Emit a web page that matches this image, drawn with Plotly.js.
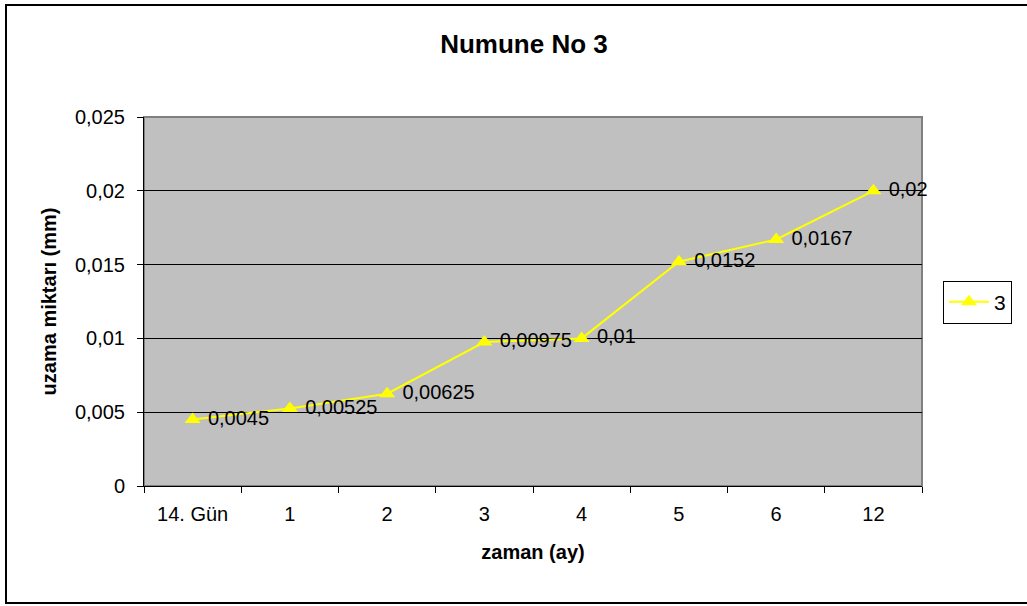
<!DOCTYPE html>
<html>
<head>
<meta charset="utf-8">
<script src="https://cdn.plot.ly/plotly-3.0.1.min.js"></script>
<style>html,body{margin:0;padding:0;background:#fff;}#chart{width:1027px;height:606px;}</style>
</head>
<body>
<div id="chart"></div>
<script>
const categories = ["14. Gün", "1", "2", "3", "4", "5", "6", "12"];
const seriesName = "3";
const values = [0.0045, 0.00525, 0.00625, 0.00975, 0.01, 0.0152, 0.0167, 0.02];
const yTickVals = [0, 0.005, 0.01, 0.015, 0.02, 0.025];
const yTickText = ["0", "0,005", "0,01", "0,015", "0,02", "0,025"];
const chartTitle = "Numune No 3";
const xTitle = "zaman (ay)";
const yTitle = "uzama miktarı (mm)";

const labels = values.map(v => " " + String(v).replace(".", ","));
const FONT = "Liberation Sans, Arial, sans-serif";

const trace = {
  x: categories,
  y: values,
  name: seriesName,
  type: "scatter",
  mode: "lines+markers+text",
  line: {color: "#FFFF00", width: 2},
  marker: {symbol: "triangle-up", size: 14, color: "#FFFF00"},
  text: labels,
  textposition: "middle right",
  textfont: {family: FONT, size: 20, color: "#000"},
  cliponaxis: false
};

// plot area pixel geometry: x 144..922, y 117..486
const L = 144, R = 922, T = 117, B = 486;
const pw = R - L, ph = B - T;
const px = p => (p - L) / pw;
const py = p => (B - p) / ph;

const layout = {
  width: 1027, height: 606,
  margin: {l: L, r: 1027 - R, t: T, b: 606 - B, pad: 0},
  paper_bgcolor: "#fff",
  plot_bgcolor: "#C0C0C0",
  separators: ", ",
  font: {family: FONT, color: "#000", size: 20},
  title: {text: "<b>" + chartTitle + "</b>", font: {family: FONT, size: 26, color: "#000"},
          x: 524 / 1027, xref: "container", xanchor: "center", y: 1 - 44 / 606, yref: "container", yanchor: "middle"},
  showlegend: true,
  legend: {x: px(943), xanchor: "left", y: py(302), yanchor: "middle", bgcolor: "#fff",
           bordercolor: "#000", borderwidth: 1, font: {family: FONT, size: 21, color: "#000"},
           itemwidth: 40},
  xaxis: {
    type: "category",
    range: [-0.5, 7.5],
    showline: true, linecolor: "#000", linewidth: 1,
    ticks: "outside", ticklen: 6, tickcolor: "#000", tickson: "boundaries",
    ticklabelstandoff: 10,
    showgrid: false, zeroline: false,
    tickfont: {family: FONT, size: 20, color: "#000"},
    title: {text: "<b>" + xTitle + "</b>", font: {family: FONT, size: 20, color: "#000"}, standoff: 20}
  },
  yaxis: {
    range: [0, 0.025],
    tickvals: yTickVals, ticktext: yTickText,
    showline: true, linecolor: "#000", linewidth: 1,
    ticks: "outside", ticklen: 6, tickcolor: "#000",
    ticklabelstandoff: 8,
    showgrid: true, gridcolor: "#000", gridwidth: 1, zeroline: false,
    tickfont: {family: FONT, size: 20, color: "#000"},
    title: {text: "<b>" + yTitle + "</b>", font: {family: FONT, size: 20, color: "#000"}, standoff: 12}
  },
  shapes: [
    {type: "rect", xref: "paper", yref: "paper", x0: 0, x1: 1, y0: 0, y1: 1,
     line: {color: "#808080", width: 2}, layer: "below"},
    {type: "rect", xref: "paper", yref: "paper", x0: px(6), x1: px(1040), y0: py(603), y1: py(5),
     line: {color: "#000", width: 2}, layer: "below"}
  ]
};

Plotly.newPlot("chart", [trace], layout, {displayModeBar: false, staticPlot: true});
</script>
</body>
</html>
